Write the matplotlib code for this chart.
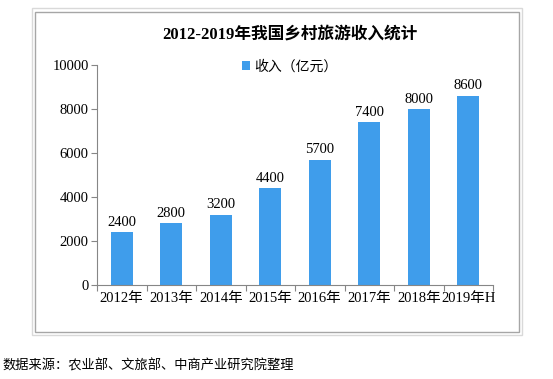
import matplotlib
matplotlib.use("Agg")
import matplotlib.pyplot as plt
from matplotlib.patches import Rectangle

plt.rcParams['font.family'] = ['Liberation Serif', 'Noto Sans CJK SC', 'DejaVu Sans']

years = ["2012年", "2013年", "2014年", "2015年", "2016年", "2017年", "2018年", "2019年H"]
income = [2400, 2800, 3200, 4400, 5700, 7400, 8000, 8600]
y_ticks = [0, 2000, 4000, 6000, 8000, 10000]

bar_color = "#3F9DEB"
axis_color = "#868686"

fig = plt.figure(figsize=(5.53, 3.79), dpi=100)

# chart frame
fig.patches.append(Rectangle((32 / 553, 1 - 335 / 379), 490 / 553, 327 / 379,
                             transform=fig.transFigure, fill=False,
                             edgecolor="#D9D9D9", linewidth=1))
fig.patches.append(Rectangle((35 / 553, 1 - 332 / 379), 484 / 553, 320 / 379,
                             transform=fig.transFigure, fill=False,
                             edgecolor="#A6A6A6", linewidth=1))

ax = fig.add_axes([97 / 553, 1 - 285 / 379, 396 / 553, 220 / 379])
x = range(len(years))
bars = ax.bar(x, income, width=0.44, color=bar_color, label="收入（亿元）")
for xi, v in zip(x, income):
    ax.text(xi, v + 150, str(v), ha="center", va="bottom", fontsize=10.5)

ax.set_xlim(-0.5, len(years) - 0.5)
ax.set_ylim(0, 10000)
ax.set_yticks(y_ticks)
ax.set_yticklabels([str(t) for t in y_ticks], fontsize=10.5)
ax.set_xticks([i - 0.5 for i in range(len(years) + 1)], minor=False)
ax.set_xticklabels([])
ax.set_xticks(list(x), minor=True)
ax.set_xticklabels(years, minor=True, fontsize=10.5)
ax.tick_params(axis="x", which="minor", length=0, pad=5)
ax.tick_params(axis="x", which="major", length=4, color=axis_color)
ax.tick_params(axis="y", length=4, color=axis_color, pad=2)
for s in ["top", "right"]:
    ax.spines[s].set_visible(False)
for s in ["left", "bottom"]:
    ax.spines[s].set_color(axis_color)

fig.text(290 / 553, 1 - 35 / 379, "2012-2019年我国乡村旅游收入统计", ha="center", va="center",
         fontsize=12, fontweight="bold")
fig.legend(handles=[bars], loc="center", bbox_to_anchor=(290 / 553, 1 - 67 / 379),
           frameon=False, fontsize=10, handlelength=0.6, handleheight=0.6,
           handletextpad=0.3)
fig.text(2 / 553, 1 - 366 / 379, "数据来源：农业部、文旅部、中商产业研究院整理", ha="left", va="center",
         fontsize=9.5, family=['Noto Sans CJK SC'])

fig.savefig("out.png", dpi=100)
